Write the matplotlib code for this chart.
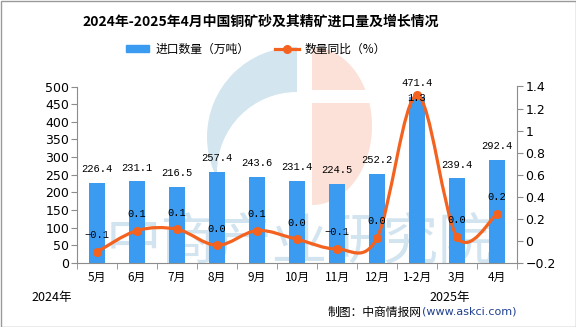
import numpy as np
import matplotlib
matplotlib.use("Agg")
import matplotlib.pyplot as plt
from matplotlib.path import Path
from matplotlib.patches import PathPatch, Wedge, Polygon, Rectangle
from matplotlib.lines import Line2D

plt.rcParams['font.family'] = ['Noto Sans CJK SC', 'DejaVu Sans']
plt.rcParams['axes.unicode_minus'] = True

months = ["5月", "6月", "7月", "8月", "9月", "10月", "11月", "12月", "1-2月", "3月", "4月"]
volume = [226.4, 231.1, 216.5, 257.4, 243.6, 231.4, 224.5, 252.2, 471.4, 239.4, 292.4]
yoy = [-0.10, 0.094, 0.106, -0.04, 0.094, 0.015, -0.073, 0.027, 1.32, 0.036, 0.245]

title = "2024年-2025年4月中国铜矿砂及其精矿进口量及增长情况"
bar_name = "进口数量（万吨）"
line_name = "数量同比（%）"

BAR_C = "#3A9BF0"
LINE_C = "#F4621F"
GRID_C = "#8c8c8c"

W, H = 576, 327
fig = plt.figure(figsize=(W / 100, H / 100), dpi=100)

# background layer in pixel coords (watermark)
bg = fig.add_axes([0, 0, 1, 1], zorder=-1)
bg.set_xlim(0, W)
bg.set_ylim(H, 0)
bg.axis("off")
bg.add_patch(Wedge((297, 137), 90, 90, 270, color="#d3e5ef", lw=0))
bg.add_patch(Wedge((297, 172), 80, 90, 270, color="white", lw=0))
t = np.linspace(-np.pi / 2, np.pi / 2, 60)
pts = np.column_stack([312 + 60 * np.cos(t), 126 + 79 * np.sin(t)])
bg.add_patch(Polygon(pts, closed=True, color="#fbe1d7", lw=0))
bg.add_patch(Rectangle((312, 90), 80, 13, color="white", lw=0))
bg.text(300, 243, "中商产业研究院", fontsize=40, fontweight="medium",
        color="#d2e4ef", ha="center", va="center")
bg.add_patch(Rectangle((0.5, 0.5), W - 1, H - 1, fill=False, ec="#9a9a9a", lw=1))

ax = fig.add_axes([77 / W, 1 - 263 / H, 440 / W, (263 - 86.5) / H])
ax.patch.set_alpha(0)
x = np.arange(len(months))
ax.bar(x, volume, width=0.4, color=BAR_C, zorder=2)
ax.set_xlim(-0.5, len(months) - 0.5)
ax.set_ylim(0, 500)
ax.set_yticks(np.arange(0, 501, 50))
ax.set_xticks(x)
ax.set_xticklabels(months, fontsize=8.5)
ax.set_xticks(np.arange(-0.5, len(months), 1), minor=True)
ax.tick_params(axis="x", which="major", length=0, pad=6)
ax.tick_params(axis="x", which="minor", length=4, color=GRID_C)
ax.tick_params(axis="y", length=4, color=GRID_C, pad=1.5, labelsize=9)
for lab in ax.get_yticklabels():
    lab.set_fontfamily("DejaVu Sans")
for s in ["top", "right"]:
    ax.spines[s].set_visible(False)
for s in ["left", "bottom"]:
    ax.spines[s].set_color(GRID_C)

for xi, v in zip(x, volume):
    ax.annotate(f"{v:.1f}", (xi, v), xytext=(0, 10), textcoords="offset points",
                ha="center", va="center", fontsize=7.5, family="Liberation Mono", zorder=5)

ax2 = ax.twinx()
ax2.set_ylim(-0.2, 1.4)
ax2.set_yticks(np.arange(-0.2, 1.41, 0.2))
ax2.set_yticklabels([f"{v:g}".replace("-", "\u2212") for v in np.round(np.arange(-0.2, 1.41, 0.2), 1)],
                    family="DejaVu Sans", fontsize=9)
ax2.tick_params(axis="y", length=4, color=GRID_C, pad=2)
for s in ["top", "left", "bottom"]:
    ax2.spines[s].set_visible(False)
ax2.spines["right"].set_color(GRID_C)

# smooth curve through the points (Catmull-Rom as cubic Bezier)
P = np.column_stack([x, yoy]).astype(float)
verts = [P[0]]
codes = [Path.MOVETO]
n = len(P)
for i in range(n - 1):
    p0 = P[max(i - 1, 0)]
    p1 = P[i]
    p2 = P[i + 1]
    p3 = P[min(i + 2, n - 1)]
    verts += [p1 + (p2 - p0) / 6, p2 - (p3 - p1) / 6, p2]
    codes += [Path.CURVE4] * 3
ax2.add_patch(PathPatch(Path(verts, codes), fill=False, ec=LINE_C, lw=2.3, zorder=3))
ax2.plot(x, yoy, "o", color=LINE_C, ms=5.5, zorder=4)
top = int(np.argmax(yoy))
for i, (xi, v) in enumerate(zip(x, yoy)):
    s = f"{v:.1f}".replace("-0.0", "0.0").replace("-", "\u2212")
    off = (0, -2) if i == top else (0, 12)
    ax2.annotate(s, (xi, v), xytext=off, textcoords="offset points",
                 ha="center", va="center", fontsize=7.5, family="Liberation Mono", zorder=5)

fig.text(261 / W, 1 - 22 / H, title, fontsize=10, fontweight="bold",
         ha="center", va="center")

handles = [Rectangle((0, 0), 1, 1, color=BAR_C),
           Line2D([], [], color=LINE_C, lw=2.3, marker="o", ms=5.5)]
fig.legend(handles, [bar_name, line_name], loc="center", ncol=2, frameon=False,
           bbox_to_anchor=(256 / W, 1 - 49 / H), fontsize=8.5, handlelength=2.0,
           handleheight=0.6, columnspacing=2.2, handletextpad=0.5)

fig.text(52 / W, 1 - 297 / H, "2024年", fontsize=9, ha="center", va="center")
fig.text(450 / W, 1 - 297 / H, "2025年", fontsize=9, ha="center", va="center")
fig.text(422 / W, 1 - 312 / H, "制图：中商情报网", fontsize=8.5, ha="right", va="center")
fig.text(422 / W, 1 - 312 / H, "(www.askci.com)", fontsize=8, ha="left", va="center",
         color="#1f3f8f", family="DejaVu Sans")

fig.savefig("out.png", dpi=100)
